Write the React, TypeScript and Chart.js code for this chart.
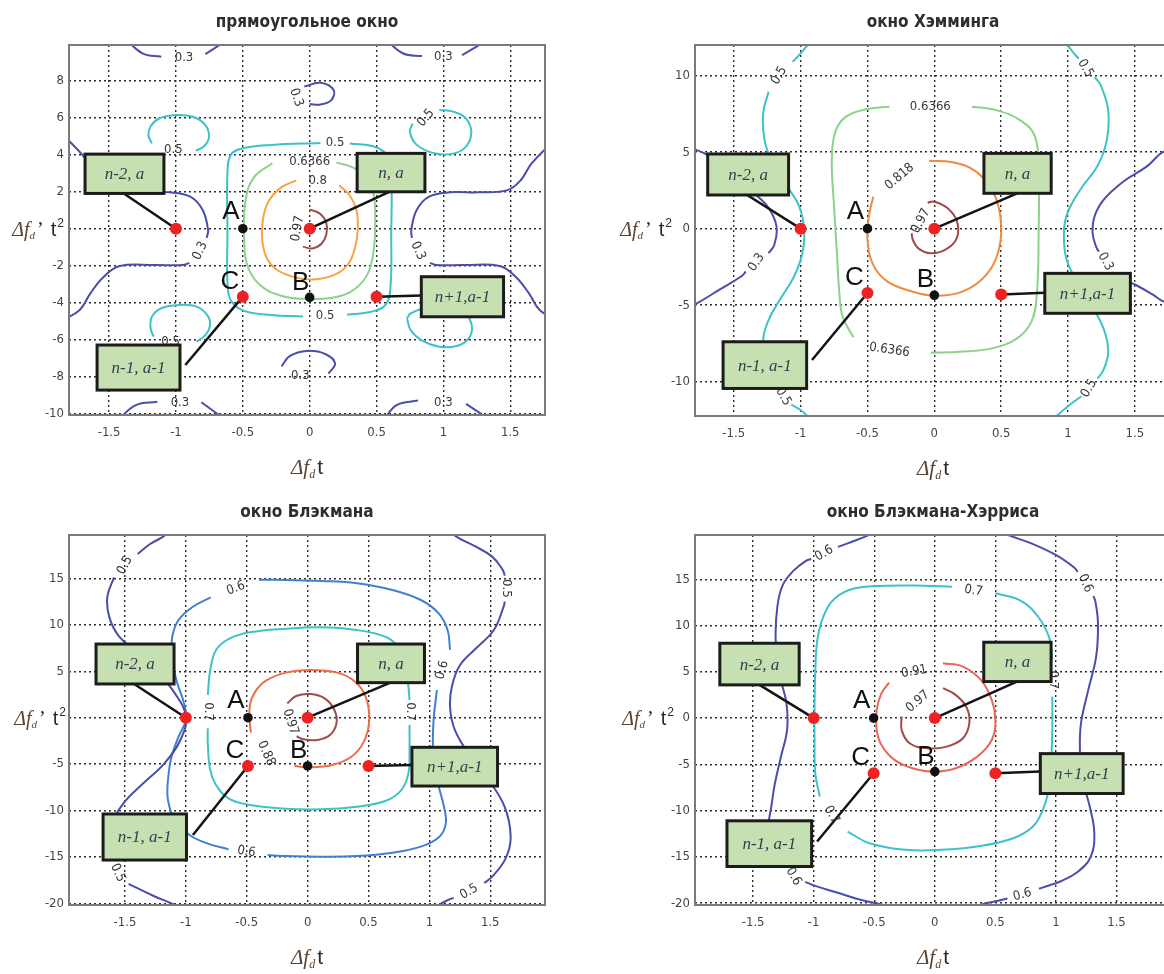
import React, { useEffect, useRef } from "react";
import { Chart, registerables } from "chart.js";

Chart.register(...registerables);

type Pt = [number, number] | null;
type CLabel = [number, number, string, number];
type BoxDef = [number, number, number, number, string];
type Leader = [number, number, number, number];
type Letter = [string, number, number];

// ---------- axes ----------
const xTickValues = [-1.5, -1, -0.5, 0, 0.5, 1, 1.5];
const xTickLabels = ["-1.5", "-1", "-0.5", "0", "0.5", "1", "1.5"];

const yTicksRect = [8, 6, 4, 2, 0, -2, -4, -6, -8, -10];
const yLabelsRect = ["8", "6", "4", "2", "", "-2", "-4", "-6", "-8", "-10"];
const yTicksHamming = [10, 5, 0, -5, -10];
const yLabelsHamming = ["10", "5", "0", "-5", "-10"];
const yTicksBlackman = [15, 10, 5, 0, -5, -10, -15, -20];
const yLabelsBlackman = ["15", "10", "5", "", "-5", "-10", "-15", "-20"];
const yLabelsBlackmanHarris = ["15", "10", "5", "0", "-5", "-10", "-15", "-20"];

// ---------- прямоугольное окно ----------
const rect097: Pt[] = [[0.0, 1.05], [0.08, 0.8], [0.125, 0.3], [0.125, -0.3], [0.09, -0.8], [0.02, -1.07], [-0.05, -0.97]];
const rect08: Pt[] = [[0.22, 2.35], [0.3, 1.8], [0.35, 1.0], [0.36, 0.0], [0.34, -1.0], [0.29, -1.9], [0.2, -2.45], [0.05, -2.74], [-0.1, -2.65], [-0.24, -2.25], [-0.32, -1.6], [-0.355, -0.6], [-0.35, 0.5], [-0.31, 1.45], [-0.22, 2.2], [-0.1, 2.62]];
const rect06366: Pt[] = [[0.2, 3.58], [0.33, 3.3], [0.43, 2.7], [0.48, 1.8], [0.49, 0.6], [0.48, -1.1], [0.43, -2.5], [0.3, -3.45], [0.12, -3.78], [-0.05, -3.8], [-0.22, -3.62], [-0.38, -3.0], [-0.47, -1.9], [-0.49, -0.3], [-0.48, 1.5], [-0.42, 2.75], [-0.28, 3.55]];
const rect05c: Pt[] = [[0.3, 4.62], [0.48, 4.45], [0.58, 3.95], [0.61, 2.7], [0.61, -0.2], [0.605, -3.1], [0.57, -4.1], [0.46, -4.5], [0.28, -4.66], null, [-0.05, -4.75], [-0.29, -4.68], [-0.5, -4.42], [-0.59, -3.88], [-0.615, -2.9], [-0.615, -0.2], [-0.615, 3.0], [-0.59, 4.0], [-0.5, 4.36], [-0.29, 4.54], [0.08, 4.64]];
const rect05ul: Pt[] = [[-1.18, 4.62], [-1.206, 5.07], [-1.188, 5.56], [-1.126, 5.97], [-1.006, 6.16], [-0.873, 6.06], [-0.78, 5.61], [-0.753, 4.98], [-0.787, 4.48], [-0.851, 4.22]];
const rect05ur: Pt[] = [[0.969, 6.43], [1.075, 6.34], [1.169, 5.97], [1.209, 5.16], [1.156, 4.35], [1.049, 4.04], [0.915, 4.12], [0.795, 4.58], [0.75, 5.25], [0.77, 5.7]];
const rect05ll: Pt[] = [[-1.166, -5.85], [-1.19, -5.4], [-1.18, -4.77], [-1.11, -4.31], [-0.98, -4.13], [-0.846, -4.22], [-0.766, -4.68], [-0.745, -5.22], [-0.78, -5.76], [-0.846, -6.12]];
const rect05lr: Pt[] = [[0.728, -4.86], [0.755, -5.49], [0.835, -6.03], [0.969, -6.39], [1.1, -6.35], [1.18, -6.03], [1.214, -5.49], [1.2, -4.95], [1.156, -4.5], [1.02, -4.22], [0.86, -4.31], [0.755, -4.58], [0.728, -4.86]];
const rect03tl: Pt[] = [[-1.38, 10.3], [-1.25, 9.5], [-1.11, 9.31], null, [-0.78, 9.46], [-0.6, 10.3]];
const rect03tr: Pt[] = [[0.56, 10.3], [0.7, 9.49], [0.84, 9.35], null, [1.14, 9.4], [1.35, 10.3]];
const rect03tc: Pt[] = [[-0.04, 7.7], [0.08, 7.9], [0.18, 7.5], [0.16, 6.95], [0.08, 6.73], [0.0, 6.75]];
const rect03bc: Pt[] = [[-0.21, -7.45], [-0.15, -6.9], [-0.02, -6.62], [0.12, -6.8], [0.19, -7.3], [0.14, -7.85]];
const rect03bl: Pt[] = [[-1.44, -10.4], [-1.3, -9.55], [-1.14, -9.37], null, [-0.81, -9.4], [-0.62, -10.4]];
const rect03br: Pt[] = [[0.55, -10.4], [0.65, -9.55], [0.81, -9.31], null, [1.17, -9.49], [1.36, -10.4]];
const rect03l: Pt[] = [[-1.86, 5.2], [-1.7, 4.0], [-1.6, 3.1], [-1.48, 2.35], [-1.3, 2.02], [-1.05, 1.97], [-0.89, 1.73], [-0.8, 1.01], [-0.76, -0.07], [-0.77, -0.5], null, [-0.9, -1.85], [-0.95, -1.97], [-1.16, -1.97], [-1.42, -2.02], [-1.54, -2.6], [-1.64, -3.5], [-1.72, -4.4], [-1.86, -5.0]];
const rect03r: Pt[] = [[1.86, 5.0], [1.66, 3.54], [1.58, 2.64], [1.48, 2.09], [1.26, 1.97], [1.05, 1.97], [0.89, 1.73], [0.8, 1.01], [0.76, -0.07], [0.765, -0.5], null, [0.9, -1.85], [0.95, -1.97], [1.16, -1.97], [1.42, -2.02], [1.54, -2.6], [1.64, -3.5], [1.72, -4.4], [1.86, -5.0]];
const rectLabels: CLabel[] = [
  [0.19, 4.65, "0.5", 0], [0.115, -4.7, "0.5", 0], [0.0, 3.62, "0.6366", 0], [0.06, 2.58, "0.8", 0],
  [-0.09, 0.0, "0.97", -80], [-1.02, 4.28, "0.5", 0], [0.87, 6.0, "0.5", -50], [-1.04, -6.1, "0.5", 0],
  [-0.94, 9.28, "0.3", 0], [1.0, 9.3, "0.3", 0], [-0.1, 7.1, "0.3", 70], [-0.07, -7.95, "0.3", 0],
  [-0.97, -9.4, "0.3", 0], [1.0, -9.4, "0.3", 0], [-0.82, -1.2, "0.3", -65], [0.81, -1.2, "0.3", 65],
];
const rectBoxes: BoxDef[] = [[-1.68, -1.09, 1.91, 4.04, "n-2, a"], [0.355, 0.862, 2.0, 4.08, "n, a"], [0.835, 1.45, -4.77, -2.6, "n+1,a-1"], [-1.59, -0.97, -8.74, -6.3, "n-1, a-1"]];
const rectLeaders: Leader[] = [[-1.39, 1.91, -1, 0], [0.595, 2.0, 0, 0], [0.835, -3.62, 0.5, -3.68], [-0.93, -7.38, -0.5, -3.68]];
const rectRed: Pt[] = [[-1, 0], [0, 0], [0.5, -3.68], [-0.5, -3.68]];
const rectBlack: Pt[] = [[-0.5, 0], [0, -3.72]];
const rectLetters: Letter[] = [["A", -0.5, 0], ["B", 0, -3.72], ["C", -0.5, -3.68]];

// ---------- окно Хэмминга ----------
const ham097: Pt[] = [[-0.05, 1.7], [0, 1.76], [0.1, 1.33], [0.17, 0.46], [0.167, -0.63], [0.086, -1.35], [-0.027, -1.61], [-0.12, -1.29], [-0.16, -0.74], [-0.17, -0.3]];
const ham0818: Pt[] = [[-0.04, 4.44], [0.135, 4.34], [0.296, 3.83], [0.417, 2.75], [0.48, 1.44], [0.5, -0.31], [0.457, -2.05], [0.35, -3.36], [0.19, -4.18], [0, -4.38], [-0.16, -4.12], [-0.35, -3.46], [-0.457, -2.37], [-0.5, -0.74], [-0.49, 0.78], [-0.457, 2.09]];
const ham06366: Pt[] = [[-0.336, 7.97], [-0.5, 7.82], [-0.66, 7.32], [-0.74, 6.34], [-0.767, 4.49], [-0.753, 1.87], [-0.73, -1.39], [-0.71, -4.23], [-0.686, -5.75], [-0.605, -7.1], null, [-0.027, -8.1], [0.19, -8.04], [0.43, -7.82], [0.619, -7.17], [0.726, -6.08], [0.767, -4.23], [0.78, -0.3], [0.78, 3.62], [0.753, 6.01], [0.646, 7.06], [0.457, 7.76], [0.282, 7.97]];
const ham05l: Pt[] = [[-0.9, 12.5], [-1.01, 11.35], [-1.06, 10.9], null, [-1.24, 8.95], [-1.28, 7.54], [-1.27, 5.8], [-1.21, 4.27], [-1.1, 2.75], [-1.01, 1.44], [-0.974, -0.09], [-0.987, -1.61], [-1.05, -3.14], [-1.157, -4.66], [-1.24, -5.97], [-1.28, -7.28], [-1.25, -8.58], [-1.21, -9.89], [-1.18, -10.3], null, [-1.07, -11.5], [-1.0, -11.85], [-0.92, -12.5]];
const ham05r: Pt[] = [[0.95, 12.5], [1.044, 11.46], [1.08, 11.1], null, [1.2, 9.9], [1.243, 9.39], [1.3, 7.76], [1.29, 5.8], [1.224, 4.16], [1.09, 2.53], [0.995, 1.0], [0.969, -0.3], [0.99, -2.05], [1.076, -3.57], [1.197, -5.32], [1.278, -6.84], [1.3, -8.15], [1.264, -9.24], [1.22, -9.8], null, [1.1, -10.95], [0.995, -11.63], [0.88, -12.5]];
const ham03l: Pt[] = [[-1.86, 5.3], [-1.78, 5.14], [-1.695, 4.81], [-1.51, 3.6], [-1.318, 2.09], [-1.237, 1.33], [-1.18, 0.13], [-1.197, -1.07], [-1.24, -1.6], null, [-1.41, -2.8], [-1.44, -3.09], [-1.61, -4.0], [-1.776, -4.88], [-1.86, -5.2]];
const ham03r: Pt[] = [[1.86, 5.3], [1.716, 5.03], [1.587, 4.05], [1.412, 3.07], [1.264, 1.87], [1.197, 0.78], [1.184, -0.3], [1.21, -1.18], [1.23, -1.5], null, [1.33, -2.85], [1.372, -3.14], [1.507, -3.68], [1.64, -4.34], [1.716, -4.77], [1.86, -5.1]];
const hamLabels: CLabel[] = [
  [-0.1, 0.5, "0.97", -62], [-0.26, 3.4, "0.818", -40], [-0.03, 7.97, "0.6366", 0], [-0.336, -7.93, "0.6366", 8],
  [-1.16, 10.0, "0.5", -60], [-1.13, -10.98, "0.5", 60], [1.13, 10.48, "0.5", 60], [1.157, -10.44, "0.5", -60],
  [-1.33, -2.2, "0.3", -55], [1.28, -2.16, "0.3", 60],
];
const hamBoxes: BoxDef[] = [[-1.695, -1.09, 2.2, 4.88, "n-2, a"], [0.371, 0.874, 2.31, 4.92, "n, a"], [0.826, 1.466, -5.53, -2.92, "n+1,a-1"], [-1.58, -0.955, -10.44, -7.39, "n-1, a-1"]];
const hamLeaders: Leader[] = [[-1.4, 2.2, -1, 0], [0.62, 2.31, 0, 0], [0.826, -4.18, 0.5, -4.3], [-0.915, -8.58, -0.5, -4.2]];
const hamRed: Pt[] = [[-1, 0], [0, 0], [0.5, -4.3], [-0.5, -4.2]];
const hamBlack: Pt[] = [[-0.5, 0], [0, -4.35]];
const hamLetters: Letter[] = [["A", -0.5, 0], ["B", 0, -4.35], ["C", -0.5, -4.2]];

// ---------- окно Блэкмана ----------
const bl097: Pt[] = [[-0.167, 1.54], [-0.094, 2.33], [0.023, 2.55], [0.14, 2.08], [0.22, 0.83], [0.237, -0.61], [0.184, -1.87], [0.082, -2.4], [-0.035, -2.33], [-0.09, -2.0]];
const bl088: Pt[] = [[-0.465, -1.6], [-0.474, -0.61], [-0.474, 1.36], [-0.43, 2.8], [-0.342, 3.98], [-0.18, 4.85], [0.023, 5.13], [0.243, 4.85], [0.39, 3.88], [0.477, 2.26], [0.506, -0.25], [0.462, -2.58], [0.36, -4.2], [0.2, -5.1], [0.023, -5.35], [-0.108, -5.2]];
const bl07: Pt[] = [[0.837, -0.79], [0.837, -3.48], [0.828, -6.0], [0.77, -7.79], [0.638, -8.97], [0.404, -9.58], [0.11, -9.87], [-0.18, -9.8], [-0.474, -9.4], [-0.65, -8.69], [-0.752, -7.25], [-0.8, -5.64], [-0.82, -2.76], [-0.82, -1.15], null, [-0.82, 2.44], [-0.8, 5.13], [-0.752, 7.29], [-0.65, 8.47], [-0.474, 9.19], [-0.18, 9.58], [0.11, 9.73], [0.404, 9.44], [0.638, 8.72], [0.74, 7.65], [0.8, 5.85], [0.828, 3.34], [0.837, 1.9]];
const bl06: Pt[] = [[-0.4, 14.86], [-0.18, 14.82], [0.11, 14.72], [0.404, 14.47], [0.697, 13.75], [0.93, 12.67], [1.077, 11.23], [1.15, 9.44], [1.17, 7.29], null, [1.062, 2.98], [1.033, -0.61], [1.033, -4.2], [1.071, -7.07], [1.12, -9.58], [1.135, -11.38], [1.083, -12.81], [0.93, -13.89], [0.697, -14.54], [0.404, -14.9], [0.11, -14.97], [-0.18, -14.9], [-0.328, -14.79], null, [-0.65, -14.18], [-0.825, -13.53], [-0.97, -12.63], [-1.09, -11.02], [-1.147, -8.87], [-1.147, -6.71], [-1.118, -4.2], [-1.06, -2.05], [-1.0, -0.25], [-1.015, 1.54], [-1.074, 3.88], [-1.118, 6.57], [-1.112, 8.72], [-1.06, 10.52], [-0.942, 11.95], [-0.796, 12.96]];
const bl05l: Pt[] = [[-1.15, 20.2], [-1.176, 19.6], [-1.294, 18.7], [-1.396, 17.62], null, [-1.59, 15.11], [-1.645, 13.03], [-1.63, 10.88], [-1.557, 8.9], [-1.41, 7.1], [-1.235, 4.95], [-1.09, 2.62], [-1.0, 0.11], [-1.045, -2.4], [-1.176, -4.92], [-1.35, -7.07], [-1.513, -9.22], [-1.62, -11.74], [-1.64, -14.25], [-1.62, -15.3], null, [-1.47, -17.9], [-1.425, -18.2], [-1.264, -19.2], [-1.09, -20.17], [-1.05, -20.5]];
const bl05r: Pt[] = [[1.19, 20.2], [1.21, 19.6], [1.37, 18.49], [1.516, 17.34], [1.6, 15.97], [1.62, 15.3], null, [1.62, 12.5], [1.61, 11.95], [1.53, 9.44], [1.384, 7.47], [1.253, 5.67], [1.188, 3.52], [1.17, 1.18], [1.21, -1.33], [1.34, -4.2], [1.487, -6.71], [1.618, -9.58], [1.668, -12.81], [1.627, -15.15], [1.516, -17.12], [1.45, -17.8], null, [1.2, -19.4], [1.165, -19.56], [1.077, -20.17], [1.05, -20.5]];
const blLabels: CLabel[] = [
  [-0.14, -0.45, "0.97", 72], [-0.34, -3.85, "0.88", 65], [-0.815, 0.65, "0.7", 90], [0.843, 0.65, "0.7", 90],
  [1.106, 5.13, "0.6", -75], [-0.503, -14.43, "0.6", 10], [-0.59, 13.93, "0.6", -20],
  [-1.5, 16.4, "0.5", -62], [-1.56, -16.7, "0.5", 65], [1.633, 13.93, "0.5", 90], [1.326, -18.74, "0.5", -30],
];
const blBoxes: BoxDef[] = [[-1.738, -1.097, 3.63, 7.93, "n-2, a"], [0.41, 0.96, 3.77, 7.93, "n, a"], [0.857, 1.56, -7.36, -3.19, "n+1,a-1"], [-1.68, -0.995, -15.33, -10.37, "n-1, a-1"]];
const blLeaders: Leader[] = [[-1.425, 3.63, -1, 0], [0.68, 3.77, 0, 0], [0.857, -5.1, 0.5, -5.2], [-0.942, -12.63, -0.49, -5.2]];
const blRed: Pt[] = [[-1, 0], [0, 0], [0.5, -5.2], [-0.49, -5.2]];
const blBlack: Pt[] = [[-0.49, 0], [0, -5.2]];
const blLetters: Letter[] = [["A", -0.49, 0], ["B", 0, -5.2], ["C", -0.49, -5.2]];

// ---------- окно Блэкмана-Хэрриса ----------
const bh097: Pt[] = [[0.068, 3.23], [0.172, 2.51], [0.262, 1.17], [0.285, -0.55], [0.232, -2.18], [0.098, -3.08], [-0.065, -3.26], [-0.208, -2.72], [-0.274, -1.27], [-0.274, 0.17]];
const bh091: Pt[] = [[0.068, 5.93], [0.232, 5.57], [0.38, 4.13], [0.47, 1.97], [0.5, -0.19], [0.47, -2.36], [0.35, -4.16], [0.172, -5.42], [-0.006, -5.78], [-0.184, -5.42], [-0.333, -4.52], [-0.437, -3.0], [-0.48, -1.27], [-0.48, 0.89], [-0.443, 2.61], [-0.378, 3.84]];
const bh07: Pt[] = [[0.5, 13.49], [0.708, 12.7], [0.856, 10.9], [0.946, 8.63], [0.97, 6.29], null, [0.97, 2.33], [0.97, -1.27], [0.96, -4.88], [0.94, -7.73], [0.892, -9.92], [0.81, -11.72], [0.648, -12.98], [0.35, -13.88], [0.054, -14.24], [-0.244, -14.24], [-0.54, -13.52], [-0.72, -12.26], null, [-0.95, -8.48], [-0.987, -5.96], [-0.993, -2.36], [-0.993, 1.25], [-0.987, 4.85], [-0.97, 8.45], [-0.92, 10.97], [-0.824, 12.95], [-0.66, 14.03], [-0.393, 14.31], [-0.095, 14.31], [0.143, 14.21]];
const bh06l: Pt[] = [[-0.5, 20.2], [-0.556, 19.72], [-0.72, 18.89], [-0.8, 18.5], null, [-1.02, 17.2], [-1.06, 17.02], [-1.166, 15.94], [-1.255, 14.39], [-1.3, 12.05], [-1.314, 8.45], [-1.285, 4.85], [-1.225, 1.6], [-1.22, -1.27], [-1.27, -4.16], [-1.32, -7.04], [-1.35, -9.56], [-1.374, -11.72], [-1.35, -14.5], [-1.29, -15.9], null, [-1.07, -17.7], [-0.987, -18.13], [-0.809, -18.85], [-0.63, -19.57], [-0.393, -20.29]];
const bh06r: Pt[] = [[0.55, 20.2], [0.618, 19.72], [0.797, 18.89], [0.999, 17.63], [1.148, 16.3], [1.18, 15.8], null, [1.31, 13.2], [1.326, 12.59], [1.347, 10.25], [1.332, 6.65], [1.267, 3.05], [1.207, -0.55], [1.198, -3.44], [1.213, -6.32], [1.279, -9.56], [1.317, -12.44], [1.288, -14.96], [1.183, -16.58], [1.035, -17.66], [0.916, -18.2], [0.86, -18.45], null, [0.6, -19.5], [0.53, -19.72], [0.38, -20.17], [0.33, -20.5]];
const bhLabels: CLabel[] = [
  [-0.14, 1.79, "0.97", -40], [-0.17, 5.03, "0.91", -10], [0.98, 4.13, "0.7", 90], [-0.853, -10.45, "0.7", 60], [0.32, 13.77, "0.7", 10],
  [-0.913, 17.81, "0.6", -30], [-1.166, -17.12, "0.6", 60], [1.243, 14.57, "0.6", 65], [0.723, -19.1, "0.6", -15],
];
const bhBoxes: BoxDef[] = [[-1.775, -1.12, 3.59, 8.09, "n-2, a"], [0.404, 0.96, 3.95, 8.2, "n, a"], [0.871, 1.555, -8.15, -3.84, "n+1,a-1"], [-1.716, -1.017, -16.04, -11.1, "n-1, a-1"]];
const bhLeaders: Leader[] = [[-1.448, 3.59, -1, 0], [0.678, 3.95, 0, 0], [0.871, -5.78, 0.5, -5.96], [-0.972, -13.34, -0.505, -5.96]];
const bhRed: Pt[] = [[-1, 0], [0, 0], [0.5, -5.96], [-0.505, -5.96]];
const bhBlack: Pt[] = [[-0.505, 0], [0, -5.78]];
const bhLetters: Letter[] = [["A", -0.505, 0], ["B", 0, -5.78], ["C", -0.505, -5.96]];

// ---------- styling ----------
const DARKBLUE = "#4b4ea8";
const BLUE = "#3f80d2";
const CYAN = "#3ec2c8";
const GREEN = "#8fd08a";
const ORANGE = "#f4a445";
const ORANGE2 = "#f08a3e";
const SALMON = "#ea6f4d";
const RED2 = "#e8675a";
const MAROON = "#a24a4a";

const NARROW = '"Liberation Sans Narrow", "DejaVu Sans Condensed", "Arial Narrow", sans-serif';
const SANS = '"Liberation Sans", Arial, sans-serif';
const SERIF = '"Liberation Serif", "Times New Roman", serif';
const LABEL_BROWN = "#5c4433";

const LETTER_OFFSET: Record<string, [number, number]> = { A: [-12, -17], B: [-9, -15], C: [-13, -15] };

type Contour = { pts: Pt[]; color: string };
interface Panel {
  title: string;
  left: number; top: number; width: number; height: number;
  area: { l: number; t: number; r: number; b: number };
  titlePad: [number, number];
  xRange: [number, number]; yRange: [number, number];
  yTicks: number[]; yLabels: string[];
  yTitleRight: number;
  contours: Contour[];
  labels: CLabel[]; boxes: BoxDef[]; leaders: Leader[];
  red: Pt[]; black: Pt[]; letters: Letter[];
}

const PANELS: Panel[] = [
  {
    title: "прямоугольное окно", left: 0, top: 0, width: 582, height: 487,
    area: { l: 69, t: 45, r: 545, b: 415 }, titlePad: [12, 12.6],
    xRange: [-1.8, 1.76], yRange: [-10.09, 9.95], yTicks: yTicksRect, yLabels: yLabelsRect, yTitleRight: 64,
    contours: [
      { pts: rect03tl, color: DARKBLUE }, { pts: rect03tr, color: DARKBLUE }, { pts: rect03tc, color: DARKBLUE },
      { pts: rect03bc, color: DARKBLUE }, { pts: rect03bl, color: DARKBLUE }, { pts: rect03br, color: DARKBLUE },
      { pts: rect03l, color: DARKBLUE }, { pts: rect03r, color: DARKBLUE },
      { pts: rect05c, color: CYAN }, { pts: rect05ul, color: CYAN }, { pts: rect05ur, color: CYAN },
      { pts: rect05ll, color: CYAN }, { pts: rect05lr, color: CYAN },
      { pts: rect06366, color: GREEN }, { pts: rect08, color: ORANGE }, { pts: rect097, color: MAROON },
    ],
    labels: rectLabels, boxes: rectBoxes, leaders: rectLeaders, red: rectRed, black: rectBlack, letters: rectLetters,
  },
  {
    title: "окно Хэмминга", left: 582, top: 0, width: 608, height: 487,
    area: { l: 113, t: 45, r: 589, b: 416 }, titlePad: [12, 12.6],
    xRange: [-1.79, 1.77], yRange: [-12.24, 12.0], yTicks: yTicksHamming, yLabels: yLabelsHamming, yTitleRight: 90,
    contours: [
      { pts: ham03l, color: DARKBLUE }, { pts: ham03r, color: DARKBLUE },
      { pts: ham05l, color: CYAN }, { pts: ham05r, color: CYAN },
      { pts: ham06366, color: GREEN }, { pts: ham0818, color: ORANGE2 }, { pts: ham097, color: MAROON },
    ],
    labels: hamLabels, boxes: hamBoxes, leaders: hamLeaders, red: hamRed, black: hamBlack, letters: hamLetters,
  },
  {
    title: "окно Блэкмана", left: 0, top: 487, width: 582, height: 487,
    area: { l: 69, t: 48, r: 545, b: 418 }, titlePad: [15, 12.6],
    xRange: [-1.96, 1.95], yRange: [-20.17, 19.67], yTicks: yTicksBlackman, yLabels: yLabelsBlackman, yTitleRight: 66,
    contours: [
      { pts: bl05l, color: DARKBLUE }, { pts: bl05r, color: DARKBLUE }, { pts: bl06, color: BLUE },
      { pts: bl07, color: CYAN }, { pts: bl088, color: SALMON }, { pts: bl097, color: MAROON },
    ],
    labels: blLabels, boxes: blBoxes, leaders: blLeaders, red: blRed, black: blBlack, letters: blLetters,
  },
  {
    title: "окно Блэкмана-Хэрриса", left: 582, top: 487, width: 608, height: 487,
    area: { l: 113, t: 48, r: 589, b: 418 }, titlePad: [15, 12.6],
    xRange: [-1.98, 1.95], yRange: [-20.2, 19.79], yTicks: yTicksBlackman, yLabels: yLabelsBlackmanHarris, yTitleRight: 92,
    contours: [
      { pts: bh06l, color: DARKBLUE }, { pts: bh06r, color: DARKBLUE },
      { pts: bh07, color: CYAN }, { pts: bh091, color: RED2 }, { pts: bh097, color: MAROON },
    ],
    labels: bhLabels, boxes: bhBoxes, leaders: bhLeaders, red: bhRed, black: bhBlack, letters: bhLetters,
  },
];

type Run = { t: string; font: string; color: string; dx: number; dy: number };

function drawRuns(ctx: CanvasRenderingContext2D, runs: Run[], x: number, y: number, align: "left" | "center" | "right") {
  const widths = runs.map((r) => { ctx.font = r.font; return ctx.measureText(r.t).width; });
  let total = 0;
  runs.forEach((r, i) => { total += r.dx + widths[i]; });
  let cx = align === "left" ? x : align === "center" ? x - total / 2 : x - total;
  ctx.textAlign = "left";
  ctx.textBaseline = "alphabetic";
  runs.forEach((r, i) => {
    cx += r.dx;
    ctx.font = r.font;
    ctx.fillStyle = r.color;
    ctx.fillText(r.t, cx, y + r.dy);
    cx += widths[i];
  });
}

const toXY = (pts: Pt[]) => pts.map((p) => (p ? { x: p[0], y: p[1] } : { x: null, y: null }));

function decorPlugin(p: Panel) {
  return {
    id: "panelDecor",
    afterDatasetsDraw(chart: any) {
      const ctx: CanvasRenderingContext2D = chart.ctx;
      const xs = chart.scales.x;
      const ys = chart.scales.y;
      const a = chart.chartArea;
      ctx.save();

      // contour level labels
      ctx.fillStyle = "#383838";
      ctx.font = `13px ${NARROW}`;
      ctx.textAlign = "center";
      ctx.textBaseline = "middle";
      for (const [lx, ly, txt, rot] of p.labels) {
        ctx.save();
        ctx.translate(xs.getPixelForValue(lx), ys.getPixelForValue(ly));
        ctx.rotate((rot * Math.PI) / 180);
        ctx.fillText(txt, 0, 0);
        ctx.restore();
      }

      // annotation boxes
      for (const [x0, x1, y0, y1, txt] of p.boxes) {
        const px0 = xs.getPixelForValue(x0);
        const px1 = xs.getPixelForValue(x1);
        const py0 = ys.getPixelForValue(y1);
        const py1 = ys.getPixelForValue(y0);
        ctx.fillStyle = "#c6e0b2";
        ctx.fillRect(px0, py0, px1 - px0, py1 - py0);
        ctx.lineWidth = 3;
        ctx.strokeStyle = "#1c1c1c";
        ctx.strokeRect(px0, py0, px1 - px0, py1 - py0);
        ctx.fillStyle = "#3a3a4c";
        ctx.font = `italic 17px ${SERIF}`;
        ctx.textAlign = "center";
        ctx.textBaseline = "middle";
        ctx.fillText(txt, (px0 + px1) / 2, (py0 + py1) / 2 + 1);
      }

      // point letters
      ctx.fillStyle = "#111";
      ctx.font = `26px ${SANS}`;
      ctx.textAlign = "center";
      ctx.textBaseline = "middle";
      for (const [name, lx, ly] of p.letters) {
        const off = LETTER_OFFSET[name];
        ctx.fillText(name, xs.getPixelForValue(lx) + off[0], ys.getPixelForValue(ly) + off[1]);
      }

      // axes frame
      ctx.strokeStyle = "#7a7a7a";
      ctx.lineWidth = 2;
      ctx.strokeRect(a.left, a.top, a.right - a.left, a.bottom - a.top);
      ctx.restore();
    },
    afterDraw(chart: any) {
      const ctx: CanvasRenderingContext2D = chart.ctx;
      const a = chart.chartArea;
      const y0 = chart.scales.y.getPixelForValue(0);
      ctx.save();
      // y axis title
      drawRuns(ctx, [
        { t: "Δf", font: `italic 20px ${SERIF}`, color: LABEL_BROWN, dx: 0, dy: 0 },
        { t: "d", font: `italic 11px ${SERIF}`, color: LABEL_BROWN, dx: 0, dy: 3 },
        { t: "’", font: `20px ${SERIF}`, color: "#2a2a2a", dx: 2, dy: 0 },
        { t: "t", font: `20px ${SANS}`, color: "#2a2a2a", dx: 7, dy: 0 },
        { t: "2", font: `12px ${SANS}`, color: "#2a2a2a", dx: 1, dy: -9 },
      ], p.yTitleRight, y0 + 7, "right");
      // x axis title
      drawRuns(ctx, [
        { t: "Δf", font: `italic 21px ${SERIF}`, color: LABEL_BROWN, dx: 0, dy: 0 },
        { t: "d", font: `italic 12px ${SERIF}`, color: LABEL_BROWN, dx: 0, dy: 4 },
        { t: "t", font: `21px ${SANS}`, color: "#2a2a2a", dx: 2, dy: 0 },
      ], (a.left + a.right) / 2, a.bottom + 59, "center");
      ctx.restore();
    },
  };
}

function PanelChart({ p }: { p: Panel }) {
  const ref = useRef<HTMLCanvasElement | null>(null);
  useEffect(() => {
    if (!ref.current) return;
    const datasets: any[] = [];
    for (const c of p.contours) {
      datasets.push({
        data: toXY(c.pts), showLine: true, borderColor: c.color, borderWidth: 2,
        pointRadius: 0, pointHoverRadius: 0, tension: 0.4, spanGaps: false, order: 3,
      });
    }
    for (const [ax, ay, tx, ty] of p.leaders) {
      datasets.push({
        data: [{ x: ax, y: ay }, { x: tx, y: ty }], showLine: true, borderColor: "#141414",
        borderWidth: 2.5, pointRadius: 0, pointHoverRadius: 0, tension: 0, order: 2,
      });
    }
    datasets.push({
      data: toXY(p.red), showLine: false, pointRadius: 6, pointHoverRadius: 6,
      pointBackgroundColor: "#ee2222", pointBorderWidth: 0, order: 1,
    });
    datasets.push({
      data: toXY(p.black), showLine: false, pointRadius: 4.8, pointHoverRadius: 4.8,
      pointBackgroundColor: "#111", pointBorderWidth: 0, order: 0,
    });

    const gridStyle = { color: "#2c2c2c", lineWidth: 1.4, drawTicks: false };
    const chart = new Chart(ref.current, {
      type: "scatter",
      data: { datasets },
      options: {
        animation: false,
        responsive: false,
        maintainAspectRatio: false,
        devicePixelRatio: 1,
        events: [],
        layout: { padding: { left: 0, top: 0, bottom: 0, right: p.width - p.area.r } },
        plugins: {
          legend: { display: false },
          tooltip: { enabled: false },
          title: {
            display: true, text: p.title, fullSize: false, color: "#2e2e2e",
            font: { family: NARROW, size: 17, weight: "bold", lineHeight: 1.2 },
            padding: { top: p.titlePad[0], bottom: p.titlePad[1] },
          },
        },
        scales: {
          x: {
            type: "linear", position: "bottom", min: p.xRange[0], max: p.xRange[1],
            grid: gridStyle, border: { display: false, dash: [2, 3] },
            afterBuildTicks: (s: any) => { s.ticks = xTickValues.map((v) => ({ value: v })); },
            afterFit: (s: any) => { s.height = p.height - p.area.b; },
            ticks: {
              autoSkip: false, maxRotation: 0, padding: 10, color: "#454545",
              font: { family: NARROW, size: 13 },
              callback: (v: any) => xTickLabels[xTickValues.indexOf(Number(v))] ?? "",
            },
          },
          y: {
            type: "linear", position: "left", min: p.yRange[0], max: p.yRange[1],
            grid: gridStyle, border: { display: false, dash: [2, 3] },
            afterBuildTicks: (s: any) => { s.ticks = p.yTicks.map((v) => ({ value: v })); },
            afterFit: (s: any) => { s.width = p.area.l; },
            ticks: {
              autoSkip: false, padding: 5, color: "#454545",
              font: { family: NARROW, size: 13 },
              callback: (v: any) => p.yLabels[p.yTicks.indexOf(Number(v))] ?? "",
            },
          },
        },
      } as any,
      plugins: [decorPlugin(p)],
    });
    return () => chart.destroy();
  }, [p]);

  return (
    <canvas
      ref={ref}
      width={p.width}
      height={p.height}
      style={{ position: "absolute", left: p.left, top: p.top, width: p.width, height: p.height }}
    />
  );
}

export default function App() {
  return (
    <div style={{ position: "fixed", left: 0, top: 0, width: 1164, height: 974, overflow: "hidden", background: "#fff" }}>
      {PANELS.map((p) => (
        <PanelChart key={p.title} p={p} />
      ))}
    </div>
  );
}
